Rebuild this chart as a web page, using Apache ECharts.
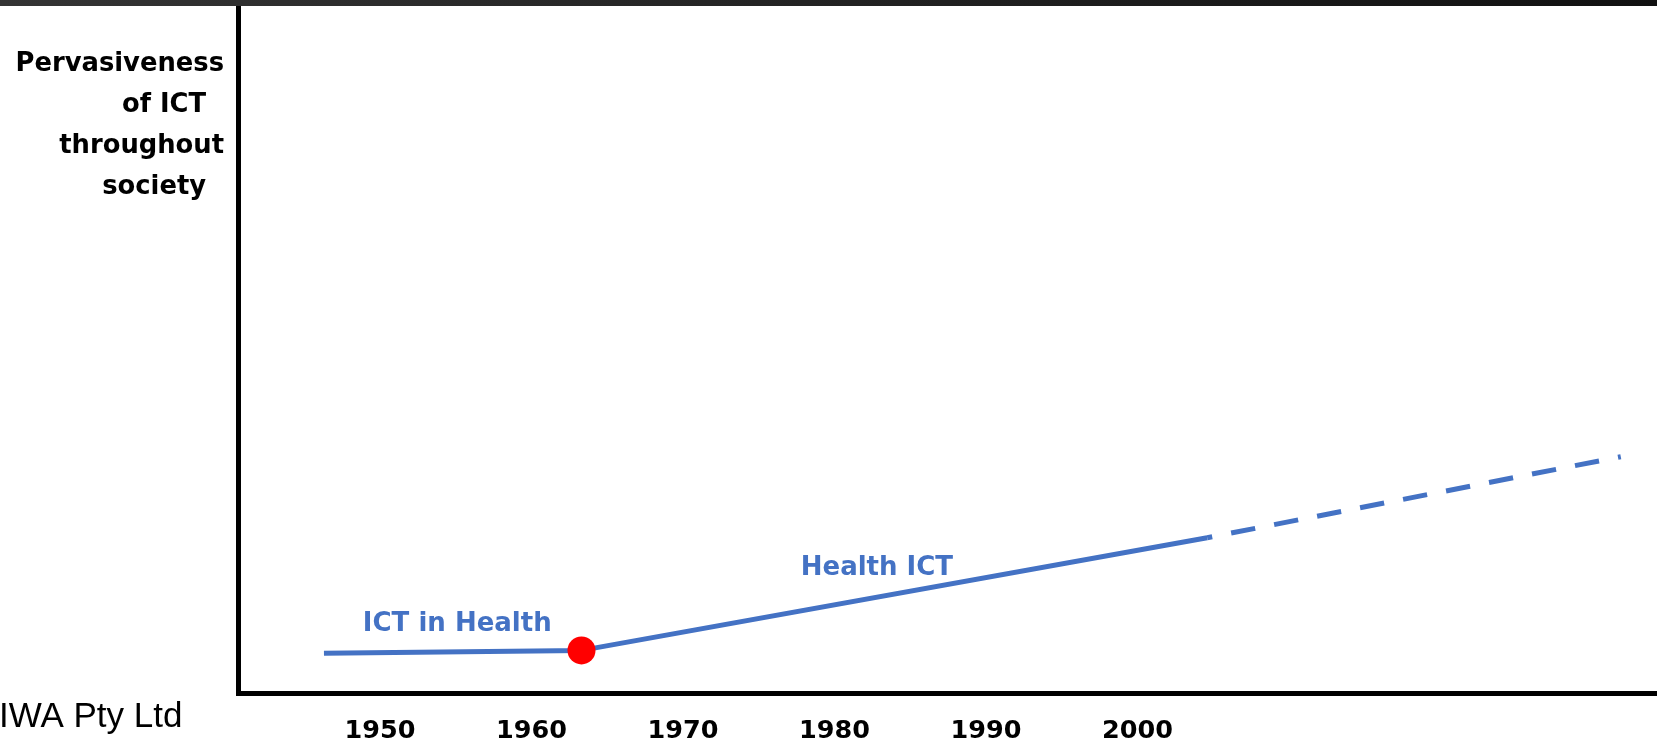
<!DOCTYPE html>
<html>
<head>
<meta charset="utf-8">
<script src="https://cdn.jsdelivr.net/npm/echarts@6/dist/echarts.min.js"></script>
<style>
html, body { margin: 0; padding: 0; background: #ffffff; }
#chart { width: 1657px; height: 745px; }
</style>
</head>
<body>
<div id="chart"></div>
<script>
// ---- data ----
const tickYears = [1950, 1960, 1970, 1980, 1990, 2000];
const solidYears = [1946.3, 1963.3, 2004.6];
const solidLevels = [5.8, 6.2, 22.6];
const dashedYears = [2004.6, 2031.9];
const dashedLevels = [22.6, 34.4];
const milestoneYears = [1963.3];
const milestoneLevels = [6.2];
const annotationTexts = ['ICT in Health', 'Health ICT'];
const annotationYears = [1955.1, 1982.8];
const annotationLevels = [10.0, 18.2];
const yAxisTitle = 'Pervasiveness\nof ICT  \nthroughout\nsociety  ';
const creditText = 'IWA Pty Ltd';

const pairs = (xs, ys) => xs.map((x, i) => [x, ys[i]]);

const BLUE = '#4472C4';
const chart = echarts.init(document.getElementById('chart'), null, { renderer: 'canvas' });

chart.setOption({
  animation: false,
  backgroundColor: '#ffffff',
  grid: { left: 238.5, right: 0, top: 6, bottom: 52, containLabel: false },
  xAxis: {
    type: 'value',
    min: 1940.66,
    max: 2034.29,
    axisLine: { show: true, lineStyle: { color: '#000', width: 5, cap: 'square' } },
    axisTick: { show: false },
    splitLine: { show: false },
    axisLabel: {
      customValues: tickYears,
      formatter: v => String(v),
      margin: 25,
      fontFamily: 'DejaVu Sans',
      fontWeight: 'bold',
      fontSize: 25.5,
      color: '#000'
    }
  },
  yAxis: {
    type: 'value',
    min: 0,
    max: 100,
    axisLine: { show: true, lineStyle: { color: '#000', width: 5, cap: 'square' } },
    axisTick: { show: false },
    splitLine: { show: false },
    axisLabel: { show: false },
    name: yAxisTitle,
    nameLocation: 'end',
    nameGap: -37.5,
    nameTextStyle: {
      fontFamily: 'DejaVu Sans',
      fontWeight: 'bold',
      fontSize: 25.8,
      lineHeight: 41,
      color: '#000',
      align: 'right',
      verticalAlign: 'top',
      padding: [0, 14.5, 0, 0]
    }
  },
  graphic: [
    {
      type: 'rect',
      left: 0, top: 0, z: 100,
      shape: { width: 1657, height: 6 },
      style: {
        fill: new echarts.graphic.LinearGradient(0, 0, 1, 0, [
          { offset: 0, color: '#343434' },
          { offset: 1, color: '#111111' }
        ])
      }
    },
    {
      type: 'text',
      x: -1, y: 717, z: 100,
      style: {
        text: creditText,
        font: '35px "Liberation Sans", Arial, sans-serif',
        fill: '#000',
        align: 'left',
        verticalAlign: 'middle'
      }
    }
  ],
  series: [
    {
      name: 'Health ICT',
      type: 'line',
      data: pairs(solidYears, solidLevels),
      symbol: 'none',
      lineStyle: { color: BLUE, width: 5 },
      z: 2
    },
    {
      name: 'Projection',
      type: 'line',
      data: pairs(dashedYears, dashedLevels),
      symbol: 'none',
      lineStyle: { color: BLUE, width: 5, type: [24.5, 19.3], dashOffset: 19.4 },
      z: 2
    },
    {
      name: 'Milestone',
      type: 'scatter',
      data: pairs(milestoneYears, milestoneLevels),
      symbol: 'circle',
      symbolSize: 28,
      itemStyle: { color: '#FF0000', opacity: 1 },
      z: 5
    },
    {
      name: 'Annotations',
      type: 'scatter',
      data: annotationYears.map((x, i) => [x, annotationLevels[i], annotationTexts[i]]),
      symbolSize: 1,
      itemStyle: { color: 'rgba(0,0,0,0)', opacity: 1 },
      label: {
        show: true,
        position: 'inside',
        formatter: p => p.data[2],
        fontFamily: 'DejaVu Sans',
        fontWeight: 'bold',
        fontSize: 26,
        color: BLUE,
        align: 'center',
        verticalAlign: 'middle'
      },
      z: 6
    }
  ]
});
</script>
</body>
</html>
